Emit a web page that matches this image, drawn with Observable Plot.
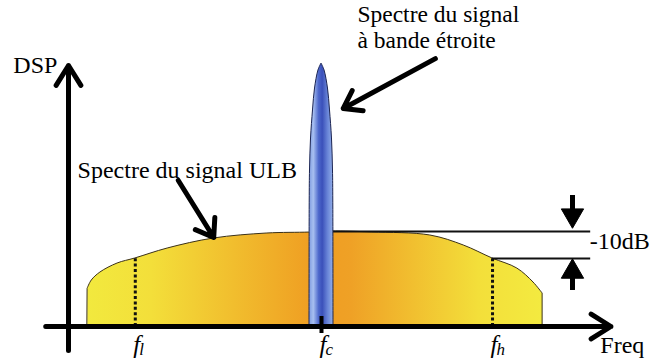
<!DOCTYPE html>
<html>
<head>
<meta charset="utf-8">
<script src="https://cdn.jsdelivr.net/npm/d3@7"></script>
<script src="https://cdn.jsdelivr.net/npm/@observablehq/plot@0.6"></script>
<style>
  html, body { margin: 0; padding: 0; background: #fff; }
  svg { display: block; }
</style>
</head>
<body>
<div id="chart"></div>
<script>
// ---- data (frequency in arbitrary units, DSP in arbitrary linear units) ----
const fc = 5;          // centre frequency
const fl = 1.32;       // low -10 dB frequency
const fh = 8.38;       // high -10 dB frequency
const levelHigh = 10;  // UWB peak level
const levelLow = 7.16; // -10 dB level

// UWB spectrum (top contour)
const uwbFreq = [0.38, 0.46, 0.63, 0.97, 1.32, 1.96, 2.87, 3.93, 4.76, 5.2, 6.0, 7.15, 7.81, 8.38, 8.87, 9.19, 9.37];
const uwbDsp  = [4.0, 4.84, 5.68, 6.63, 7.16, 8.21, 9.26, 9.79, 9.89, 10, 9.9, 9.58, 8.53, 7.16, 6.1, 4.63, 3.47];

// Narrow-band spectrum (half width vs level)
const nbDsp       = [0, 13.26, 16.42, 19.79, 22.74, 25.05, 26.95, 27.68];
const nbHalfWidth = [0.237, 0.233, 0.227, 0.207, 0.168, 0.128, 0.06, 0];

// axes (arrows)
const axisX1 = [-0.45, 0];
const axisY1 = [0, -2.53];
const axisX2 = [10.72, 0];
const axisY2 = [0, 27.47];

// annotation pointers
const ptrX1 = [2.17, 7.25];
const ptrY1 = [15.37, 28.2];
const ptrX2 = [2.87, 5.43];
const ptrY2 = [9.37, 22.95];

// -10 dB bracket arrows
const bracketX = 9.96;
const bracketShaftY1 = [13.79, 3.79];
const bracketShaftY2 = [11.7, 5.76];
const bracketHeadY = [11.7, 5.76];
const bracketHeadRotate = [180, 0];
const bracketEnd = 10.32;

// text labels
const noteText = ["DSP", "Spectre du signal ULB", "-10dB", "Freq"];
const noteFreq = [-1.09, 0.18, 10.3, 10.51];
const noteDsp  = [27.47, 16.47, 9.0, -1.95];
const nbNote = "Spectre du signal\nà bande étroite";
const nbNoteFreq = 5.71;
const nbNoteDsp = 31.58;

// frequency tick labels
const tickFreq = [fl, fc, fh];
const tickSub  = ["l", "c", "h"];

// ---- tables built from arrays ----
const uwb = uwbFreq.map((f, i) => ({f, d: uwbDsp[i]}));
const nb = nbDsp.map((d, i) => ({d, hw: nbHalfWidth[i]}));
const axes = axisX1.map((x, i) => ({x1: x, y1: axisY1[i], x2: axisX2[i], y2: axisY2[i]}));
const ptrs = ptrX1.map((x, i) => ({x1: x, y1: ptrY1[i], x2: ptrX2[i], y2: ptrY2[i]}));
const brackets = bracketShaftY1.map((y, i) => ({y1: y, y2: bracketShaftY2[i], yh: bracketHeadY[i], rot: bracketHeadRotate[i]}));
const notes = noteText.map((t, i) => ({t, f: noteFreq[i], d: noteDsp[i]}));
const ticks = tickFreq.map((f, i) => ({f, s: tickSub[i]}));

const serif = "Liberation Serif, Times New Roman, serif";

const svg = Plot.plot({
  width: 653,
  height: 364,
  margin: 0,
  style: {background: "#fff", overflow: "visible"},
  x: {type: "linear", domain: [0, 5], range: [68, 321], axis: null},
  y: {type: "linear", domain: [0, 10], range: [326, 231], axis: null},
  marks: [
    // UWB spectrum
    Plot.areaY(uwb, {x: "f", y: "d", curve: "catmull-rom", fill: "url(#uwbGrad)", stroke: "#3b3118", strokeWidth: 1}),
    // dotted -10 dB frequency markers
    Plot.ruleX([fl, fh], {y1: 0, y2: levelLow, stroke: "#111", strokeWidth: 3, strokeDasharray: "3,2.4"}),
    // -10 dB level lines
    Plot.ruleY([levelHigh], {x1: fc, x2: bracketEnd, stroke: "#111", strokeWidth: 2}),
    Plot.ruleY([levelLow], {x1: fh, x2: bracketEnd, stroke: "#111", strokeWidth: 1.8}),
    // narrow band spectrum
    Plot.areaX(nb, {y: "d", x1: d => fc - d.hw, x2: d => fc + d.hw, curve: "catmull-rom", fill: "url(#nbGrad)", stroke: "#1b2452", strokeWidth: 1}),
    // axes
    Plot.arrow(axes, {x1: "x1", y1: "y1", x2: "x2", y2: "y2", stroke: "#000", strokeWidth: 5, headLength: 7, headAngle: 64}),
    // fc tick
    Plot.ruleX([fc], {y1: -0.74, y2: 1.05, stroke: "#000", strokeWidth: 4}),
    // annotation pointers
    Plot.arrow(ptrs, {x1: "x1", y1: "y1", x2: "x2", y2: "y2", stroke: "#000", strokeWidth: 5, headLength: 6, headAngle: 70, ariaLabel: "pointer"}),
    // -10 dB bracket arrows
    Plot.ruleX(brackets, {x: () => bracketX, y1: "y1", y2: "y2", stroke: "#000", strokeWidth: 5, ariaLabel: "pointer"}),
    Plot.dot(brackets, {x: () => bracketX, y: "yh", symbol: "triangle", r: 8.3, rotate: "rot", fill: "#000", stroke: "#000", strokeWidth: 1, ariaLabel: "pointer"}),
    // labels
    Plot.text(notes, {x: "f", y: "d", text: "t", textAnchor: "start", fontFamily: serif, fontSize: 24, fill: "#000"}),
    Plot.text([nbNote], {x: () => nbNoteFreq, y: () => nbNoteDsp, text: d => d, textAnchor: "start", lineHeight: 1.12, fontFamily: serif, fontSize: 23.5, fill: "#000"}),
    Plot.text(ticks, {x: "f", y: () => -1.93, text: () => "f", textAnchor: "end", dx: 5, fontFamily: serif, fontStyle: "italic", fontSize: 25, fill: "#000"}),
    Plot.text(ticks, {x: "f", y: () => -1.93, text: "s", textAnchor: "start", dx: 4, dy: 5, fontFamily: serif, fontStyle: "italic", fontSize: 17, fill: "#000"})
  ]
});

const defs = d3.select(svg).insert("defs", ":first-child");
const g1 = defs.append("linearGradient").attr("id", "uwbGrad").attr("x1", "0").attr("x2", "1").attr("y1", "0").attr("y2", "0");
[[0, "#f2e93e"], [0.14, "#f3df3a"], [0.5, "#ef9d22"], [0.58, "#efa126"], [0.86, "#f3df3a"], [1, "#f3ea40"]]
  .forEach(([o, c]) => g1.append("stop").attr("offset", o).attr("stop-color", c));
const g2 = defs.append("linearGradient").attr("id", "nbGrad").attr("x1", "0").attr("x2", "1").attr("y1", "0").attr("y2", "0");
[[0, "#7e9be0"], [0.18, "#a7bff0"], [0.4, "#4d68cc"], [0.55, "#3a50ba"], [0.78, "#6a86d8"], [1, "#93afe8"]]
  .forEach(([o, c]) => g2.append("stop").attr("offset", o).attr("stop-color", c));

d3.select(svg).selectAll('g[aria-label="pointer"]').style("filter", "drop-shadow(3px 4px 3px rgba(0,0,0,0.35))");

document.getElementById("chart").appendChild(svg);
</script>
</body>
</html>
